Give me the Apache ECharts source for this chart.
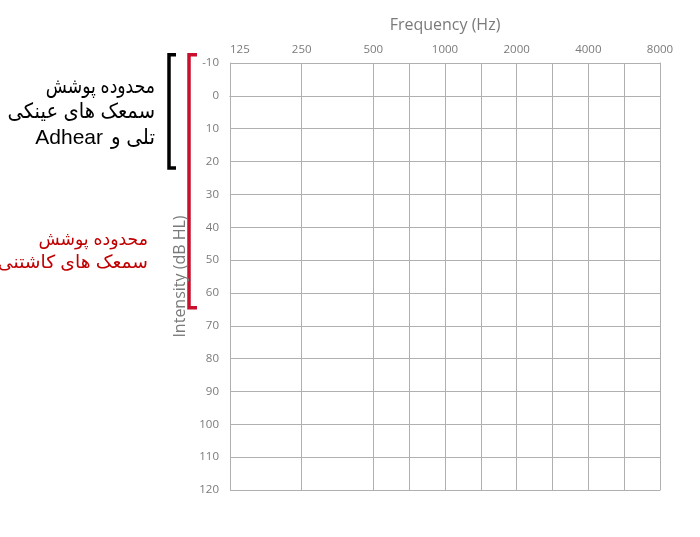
<!DOCTYPE html>
<html>
<head>
<meta charset="utf-8">
<script src="https://cdn.jsdelivr.net/npm/echarts@6/dist/echarts.min.js"></script>
<style>html,body{margin:0;padding:0;background:#fff}#c{width:700px;height:537px}</style>
</head>
<body>
<div id="c"></div>
<script>
// Frequency columns (empty strings are half-octave slots with no grid line)
const freqCategories = ['125', '', '250', '', '500', '750', '1000', '1500', '2000', '3000', '4000', '6000', '8000'];
const octaveLabels = ['125', '250', '500', '1000', '2000', '4000', '8000'];
// Intensity scale
const dbMin = -10, dbMax = 120, dbStep = 10;
// Annotation ranges (dB HL)
const blackRange = [-12.5, 22];
const redRange = [-12.5, 64.5];
const blackText = ['محدوده پوشش', 'سمعک های عینکی'];
const blackLast = ['تلی و', 'Adhear'];
const redText = ['محدوده پوشش', 'سمعک های کاشتنی'];

const gridColor = '#b0b0b0';
const labelColor = '#7a7a7a';
const font = 'Open Sans, DejaVu Sans, sans-serif';

const chart = echarts.init(document.getElementById('c'), null, {renderer: 'canvas'});
const lineIdx = (i, v) => v !== '';
chart.setOption({
  animation: false,
  backgroundColor: '#fff',
  grid: {left: 230, right: 40, top: 63, bottom: 47},
  xAxis: [{
    type: 'category', position: 'top', data: freqCategories, boundaryGap: false,
    name: 'Frequency (Hz)', nameLocation: 'middle', nameGap: 30,
    nameTextStyle: {color: labelColor, fontSize: 16, fontFamily: font},
    axisLine: {show: true, lineStyle: {color: gridColor, width: 1}},
    axisTick: {show: false},
    axisLabel: {color: labelColor, fontSize: 11.5, fontFamily: font, margin: 7,
      interval: (i, v) => octaveLabels.includes(v), alignMinLabel: 'left'},
    splitLine: {show: true, interval: lineIdx, lineStyle: {color: gridColor, width: 1}}
  }, {
    type: 'category', position: 'bottom', data: freqCategories, boundaryGap: false,
    axisLine: {show: true, lineStyle: {color: gridColor, width: 1}},
    axisTick: {show: true, interval: lineIdx, length: 3, lineStyle: {color: gridColor}},
    axisLabel: {show: false}, splitLine: {show: false}
  }],
  yAxis: [{
    type: 'value', inverse: true, min: dbMin, max: dbMax, interval: dbStep,
    name: 'Intensity (dB HL)', nameLocation: 'middle', nameGap: 40,
    nameTextStyle: {color: labelColor, fontSize: 16, fontFamily: font},
    axisLine: {show: true, lineStyle: {color: gridColor, width: 1}},
    axisTick: {show: false},
    axisLabel: {color: labelColor, fontSize: 11.5, fontFamily: font, margin: 11},
    splitLine: {show: true, lineStyle: {color: gridColor, width: 1}}
  }, {
    type: 'value', inverse: true, min: dbMin, max: dbMax, interval: dbStep, position: 'right',
    axisLine: {show: true, lineStyle: {color: gridColor, width: 1}},
    axisTick: {show: false}, axisLabel: {show: false}, splitLine: {show: false}
  }],
  series: [{type: 'line', data: [], xAxisIndex: 0, yAxisIndex: 0}]
});

function py(v) { return chart.convertToPixel({yAxisIndex: 0}, v); }
function bracket(x, range, color, cap) {
  const y0 = py(range[0]), y1 = py(range[1]);
  return {type: 'polyline', shape: {points: [[x + cap, y0], [x, y0], [x, y1], [x + cap, y1]]},
    style: {stroke: color, lineWidth: 3.5, fill: null}};
}
const rtl = s => '\u202B' + s + '\u202C';
const bFont = '21px "Liberation Sans", "DejaVu Sans", sans-serif';
const rFont = '18px "Liberation Sans", "DejaVu Sans", sans-serif';
const bScale = [0.82, 0.93];
const rScale = [0.96, 1.04];
const graphics = [
  bracket(169, blackRange, '#000', 7),
  bracket(189, redRange, '#c8102e', 8)
];
blackText.forEach((t, i) => graphics.push({type: 'text', x: 155, y: 87 + i * 25.5, scaleX: bScale[i],
  style: {text: rtl(t), align: 'right', verticalAlign: 'middle', fill: '#000', font: bFont}}));
graphics.push({type: 'text', x: 155, y: 138, scaleX: 0.95,
  style: {text: rtl(blackLast[0]), align: 'right', verticalAlign: 'middle', fill: '#000', font: bFont}});
graphics.push({type: 'text', x: 103, y: 138,
  style: {text: blackLast[1], align: 'right', verticalAlign: 'middle', fill: '#000', font: bFont}});
redText.forEach((t, i) => graphics.push({type: 'text', x: 148, y: 240 + i * 23, scaleX: rScale[i],
  style: {text: rtl(t), align: 'right', verticalAlign: 'middle', fill: '#c00000', font: rFont}}));
chart.setOption({graphic: graphics});
</script>
</body>
</html>
